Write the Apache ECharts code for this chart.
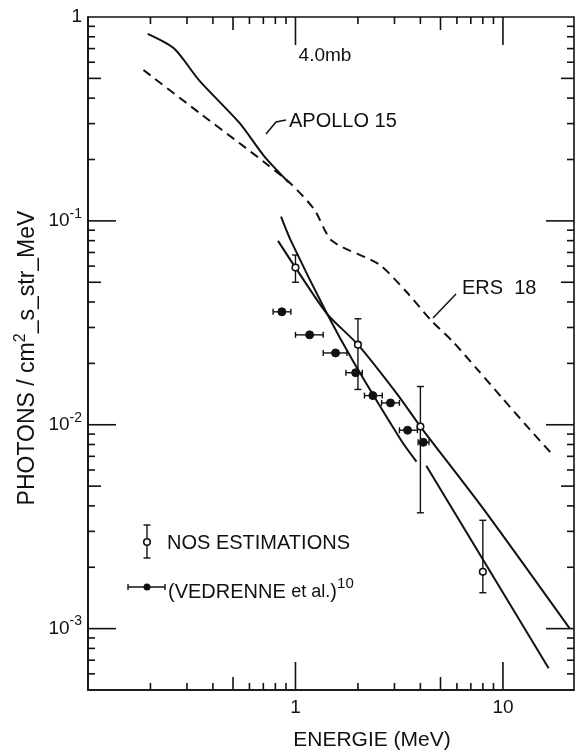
<!DOCTYPE html>
<html><head><meta charset="utf-8">
<script src="https://cdn.jsdelivr.net/npm/echarts@6/dist/echarts.min.js"></script>
<style>html,body{margin:0;padding:0;background:#fff}#c{width:577px;height:753px}</style>
</head><body><div id="c"></div>
<script>
// ---- data (MeV, photons/cm2.s.str.MeV) ----
const apollo15 = [[0.194,0.826],[0.26,0.70],[0.345,0.486],[0.536,0.303],[0.706,0.208],[0.93,0.154]];
const ers18 = [[0.185,0.55],[0.345,0.338],[0.536,0.241],[0.746,0.186],[0.95,0.152],[1.23,0.114],[1.5,0.0798],[2.51,0.0615],[3.39,0.0454],[4.52,0.0324],[5.75,0.0255],[7.59,0.0185],[10,0.0134],[13.2,0.0097],[17,0.0073]];
const fitNos = [[0.824,0.0798],[1.0,0.059],[1.42,0.035],[2.0,0.0247],[3.13,0.0139],[4.0,0.0098],[8,0.0039],[21,0.001]];
const steepA = [[0.852,0.105],[0.951,0.0798],[1.42,0.035],[1.89,0.0206],[3.24,0.00835],[3.83,0.0066]];
const steepB = [[4.27,0.0063],[16.6,0.00064]];
// open circles: [E, flux, low, high]
const nosEstimations = [[1.0,0.059,0.050,0.068],[2.0,0.0247,0.0149,0.0331],[4.0,0.0098,0.0037,0.0154],[8.0,0.0019,0.0015,0.0034]];
// filled dots: [E, flux, Elow, Ehigh]
const vedrenne = [[0.86,0.0358,0.78,0.95],[1.17,0.0276,1.0,1.36],[1.56,0.0225,1.36,1.77],[1.95,0.018,1.75,2.1],[2.36,0.0139,2.15,2.62],[2.87,0.0128,2.6,3.17],[3.47,0.0094,3.17,3.87],[4.13,0.0082,3.9,4.4]];
const xTicks = [0.2,0.3,0.4,0.5,0.6,0.7,0.8,0.9,1,2,3,4,5,6,7,8,9,10];
const yTicks = [0.9,0.8,0.7,0.6,0.5,0.4,0.3,0.2,0.1,0.09,0.08,0.07,0.06,0.05,0.04,0.03,0.02,0.01,0.009,0.008,0.007,0.006,0.005,0.004,0.003,0.002,0.001,0.0009,0.0008,0.0007,0.0006];
const xMin = 0.1, xMax = 22, yMin = 0.0005, yMax = 1;

const FONT = '"Liberation Sans", Arial, sans-serif';
function tickLen(v){
  const l = Math.log10(v), f = Math.round(Math.pow(10, l - Math.floor(l + 1e-9))*10)/10;
  if (Math.abs(f-1) < 1e-6) return 28;
  if (Math.abs(f-5) < 1e-6) return 13;
  return 7;
}
const ticksData = xTicks.map(v => [v, 'x']).concat(yTicks.map(v => [v, 'y']));

const chart = echarts.init(document.getElementById('c'), null, {renderer:'canvas'});
const black = '#111';
const lineSeries = (name, data, extra) => Object.assign({name, type: 'line', data, smooth: 0.25, symbol: 'none',
  lineStyle: {color: black, width: 2}}, extra || {});
chart.setOption({
  animation: false,
  backgroundColor: '#fff',
  grid: {left: 88, top: 17, right: 2, bottom: 63, show: true, borderColor: black, borderWidth: 1.6, backgroundColor: 'transparent'},
  xAxis: {type: 'log', logBase: 10, min: xMin, max: xMax,
    axisLine: {show: true, lineStyle: {color: black, width: 1.6}}, axisTick: {show: false}, splitLine: {show: false},
    axisLabel: {margin: 8, color: black, fontFamily: FONT, fontSize: 19,
      formatter: v => (Math.abs(v-1) < 1e-9 ? '1' : (Math.abs(v-10) < 1e-9 ? '10' : ''))}},
  yAxis: {type: 'log', logBase: 10, min: yMin, max: yMax,
    axisLine: {show: true, lineStyle: {color: black, width: 1.6}}, axisTick: {show: false}, splitLine: {show: false},
    axisLabel: {margin: 6, color: black, fontFamily: FONT, fontSize: 19,
      formatter: v => {
        const e = Math.round(Math.log10(v));
        if (Math.abs(v - Math.pow(10, e)) > 1e-12) return '';
        if (e === 0) return '{b|1}';
        return '{b|10}{s|' + e + '}';
      },
      rich: {b: {fontSize: 19, fontFamily: FONT, color: black}, s: {fontSize: 14, fontFamily: FONT, color: black, padding: [0,0,14,0]}}}},
  series: [
    {type: 'custom', silent: true, data: ticksData, clip: false, z: 1,
      renderItem: (params, api) => {
        const cs = params.coordSys;
        const v = api.value(0), ax = ticksData[params.dataIndex][1];
        const L = tickLen(v);
        const st = {stroke: black, lineWidth: 1.6};
        if (ax === 'x') {
          const px = api.coord([v, yMin])[0];
          return {type: 'group', children: [
            {type: 'line', shape: {x1: px, y1: cs.y + cs.height, x2: px, y2: cs.y + cs.height - L}, style: st},
            {type: 'line', shape: {x1: px, y1: cs.y, x2: px, y2: cs.y + L}, style: st}]};
        }
        const py = api.coord([xMin, v])[1];
        return {type: 'group', children: [
          {type: 'line', shape: {x1: cs.x, y1: py, x2: cs.x + L, y2: py}, style: st},
          {type: 'line', shape: {x1: cs.x + cs.width, y1: py, x2: cs.x + cs.width - L, y2: py}, style: st}]};
      }},
    lineSeries('APOLLO 15', apollo15),
    lineSeries('ERS 18', ers18, {lineStyle: {color: black, width: 2, type: [9, 6]}}),
    lineSeries('fit', fitNos),
    lineSeries('steepA', steepA),
    lineSeries('steepB', steepB, {smooth: false}),
    {name: 'NOS ESTIMATIONS', type: 'custom', data: nosEstimations, z: 5,
      renderItem: (params, api) => {
        const p = api.coord([api.value(0), api.value(1)]);
        const lo = api.coord([api.value(0), api.value(2)]);
        const hi = api.coord([api.value(0), api.value(3)]);
        const st = {stroke: black, lineWidth: 1.4};
        return {type: 'group', children: [
          {type: 'line', shape: {x1: p[0], y1: lo[1], x2: p[0], y2: hi[1]}, style: st},
          {type: 'line', shape: {x1: p[0]-3.5, y1: lo[1], x2: p[0]+3.5, y2: lo[1]}, style: st},
          {type: 'line', shape: {x1: p[0]-3.5, y1: hi[1], x2: p[0]+3.5, y2: hi[1]}, style: st},
          {type: 'circle', shape: {cx: p[0], cy: p[1], r: 3.3}, style: {fill: '#fff', stroke: black, lineWidth: 1.6}}]};
      }},
    {name: 'VEDRENNE', type: 'custom', data: vedrenne, z: 5,
      renderItem: (params, api) => {
        const p = api.coord([api.value(0), api.value(1)]);
        const lo = api.coord([api.value(2), api.value(1)]);
        const hi = api.coord([api.value(3), api.value(1)]);
        const st = {stroke: black, lineWidth: 1.4};
        return {type: 'group', children: [
          {type: 'line', shape: {x1: lo[0], y1: p[1], x2: hi[0], y2: p[1]}, style: st},
          {type: 'line', shape: {x1: lo[0], y1: p[1]-3, x2: lo[0], y2: p[1]+3}, style: st},
          {type: 'line', shape: {x1: hi[0], y1: p[1]-3, x2: hi[0], y2: p[1]+3}, style: st},
          {type: 'circle', shape: {cx: p[0], cy: p[1], r: 4}, style: {fill: black, stroke: black, lineWidth: 1}}]};
      }}
  ],
  graphic: [
    {type: 'text', x: 28, y: 358, rotation: Math.PI/2, style: {text: '{a|PHOTONS / cm}{s|2}{a|_s_str_MeV}', textAlign: 'center', textVerticalAlign: 'middle',
      rich: {a: {fontSize: 23, fontFamily: FONT, fill: black}, s: {fontSize: 16, fontFamily: FONT, fill: black, padding: [0,0,15,0]}}}},
    {type: 'text', x: 372, y: 740, style: {text: 'ENERGIE (MeV)', fontSize: 21, fontFamily: FONT, fill: black, textAlign: 'center', textVerticalAlign: 'middle'}},
    {type: 'text', x: 325, y: 56, style: {text: '4.0mb', fontSize: 19, fontFamily: FONT, fill: black, textAlign: 'center', textVerticalAlign: 'middle'}},
    {type: 'text', x: 289, y: 121, style: {text: 'APOLLO 15', fontSize: 20, fontFamily: FONT, fill: black, textAlign: 'left', textVerticalAlign: 'middle'}},
    {type: 'polyline', shape: {points: [[286,120],[276,122],[266,134]]}, style: {stroke: black, lineWidth: 1.5, fill: null}},
    {type: 'text', x: 462, y: 288, style: {text: 'ERS  18', fontSize: 20, fontFamily: FONT, fill: black, textAlign: 'left', textVerticalAlign: 'middle'}},
    {type: 'line', shape: {x1: 433, y1: 318, x2: 456, y2: 294}, style: {stroke: black, lineWidth: 1.5}},
    {type: 'text', x: 167, y: 543, style: {text: 'NOS ESTIMATIONS', fontSize: 20, fontFamily: FONT, fill: black, textAlign: 'left', textVerticalAlign: 'middle'}},
    {type: 'line', shape: {x1: 147, y1: 525, x2: 147, y2: 558}, style: {stroke: black, lineWidth: 1.4}},
    {type: 'line', shape: {x1: 143.5, y1: 525, x2: 150.5, y2: 525}, style: {stroke: black, lineWidth: 1.4}},
    {type: 'line', shape: {x1: 143.5, y1: 558, x2: 150.5, y2: 558}, style: {stroke: black, lineWidth: 1.4}},
    {type: 'circle', shape: {cx: 147, cy: 542, r: 3.3}, style: {fill: '#fff', stroke: black, lineWidth: 1.6}},
    {type: 'text', x: 168, y: 592, style: {text: '{a|(VEDRENNE }{b|et al.}{a|)}{s|10}', textAlign: 'left', textVerticalAlign: 'middle',
      rich: {a: {fontSize: 20, fontFamily: FONT, fill: black}, b: {fontSize: 18, fontFamily: FONT, fill: black}, s: {fontSize: 15, fontFamily: FONT, fill: black, padding: [0,0,16,0]}}}},
    {type: 'line', shape: {x1: 128, y1: 587, x2: 165, y2: 587}, style: {stroke: black, lineWidth: 1.4}},
    {type: 'line', shape: {x1: 128, y1: 584, x2: 128, y2: 590}, style: {stroke: black, lineWidth: 1.4}},
    {type: 'line', shape: {x1: 165, y1: 584, x2: 165, y2: 590}, style: {stroke: black, lineWidth: 1.4}},
    {type: 'circle', shape: {cx: 147, cy: 587, r: 3.5}, style: {fill: black}}
  ]
});
</script></body></html>
